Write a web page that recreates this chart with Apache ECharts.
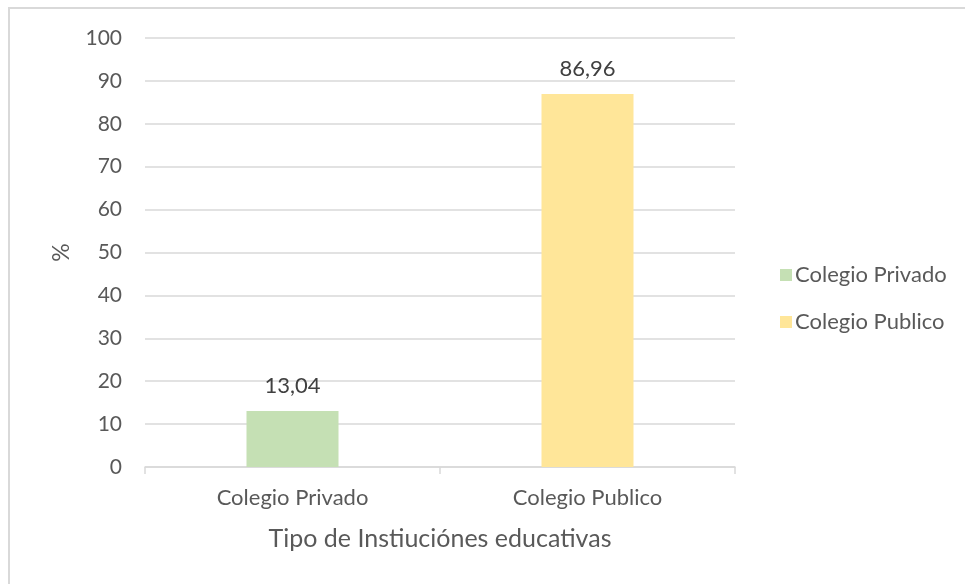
<!DOCTYPE html>
<html><head><meta charset="utf-8">
<script src="https://cdn.jsdelivr.net/npm/echarts@6/dist/echarts.min.js"></script>
<style>html,body{margin:0;padding:0;background:#fff}#c{width:965px;height:584px}</style>
</head><body><div id="c"></div>
<script>
const categories = ["Colegio Privado", "Colegio Publico"];
const seriesNames = ["Colegio Privado", "Colegio Publico"];
const privadoValues = [13.04, null];
const publicoValues = [null, 86.96];
const yTicks = [0, 10, 20, 30, 40, 50, 60, 70, 80, 90, 100];
const xTitle = "Tipo de Instiuciónes educativas";
const yTitle = "%";

const font = "Lato";
const txt = "#595959";
const chart = echarts.init(document.getElementById('c'), null, {renderer: 'canvas'});
const lbl = {show: true, position: 'top', distance: 14, color: '#404040', fontSize: 22, fontFamily: font,
  formatter: p => p.value == null ? '' : p.value.toFixed(2).replace('.', ',')};
chart.setOption({
  animation: false,
  graphic: [{type: 'rect', shape: {x: 9, y: 8, width: 1200, height: 1200}, style: {fill: 'none', stroke: '#d9d9d9', lineWidth: 2}}],
  grid: {left: 145, right: 230, top: 38, bottom: 117},
  legend: {orient: 'vertical', left: 775, top: 259, itemGap: 25, itemWidth: 12, itemHeight: 12, icon: 'rect',
    textStyle: {color: txt, fontSize: 22, fontFamily: font, padding: [0, 0, 0, -2]}, data: seriesNames},
  xAxis: {type: 'category', data: categories, name: xTitle, nameLocation: 'middle', nameGap: 59,
    nameTextStyle: {color: txt, fontSize: 25, fontFamily: font},
    axisLine: {lineStyle: {color: '#d9d9d9', width: 1.5}},
    axisTick: {show: true, length: 7, lineStyle: {color: '#d9d9d9', width: 1.5}},
    axisLabel: {color: txt, fontSize: 22, fontFamily: font, margin: 20}},
  yAxis: {type: 'value', min: yTicks[0], max: yTicks[yTicks.length - 1], interval: 10, name: yTitle,
    nameLocation: 'middle', nameGap: 72, nameRotate: 90,
    nameTextStyle: {color: txt, fontSize: 23, fontFamily: font},
    axisLine: {show: false}, axisTick: {show: false},
    splitLine: {lineStyle: {color: '#d9d9d9', width: 1.5}},
    axisLabel: {color: txt, fontSize: 21, fontFamily: font, margin: 23}},
  series: [
    {name: seriesNames[0], type: 'bar', data: privadoValues, barWidth: 92, barGap: '-100%', itemStyle: {color: '#c5e0b4'}, label: lbl},
    {name: seriesNames[1], type: 'bar', data: publicoValues, barWidth: 92, barGap: '-100%', itemStyle: {color: '#ffe699'}, label: lbl}
  ]
});
</script></body></html>
